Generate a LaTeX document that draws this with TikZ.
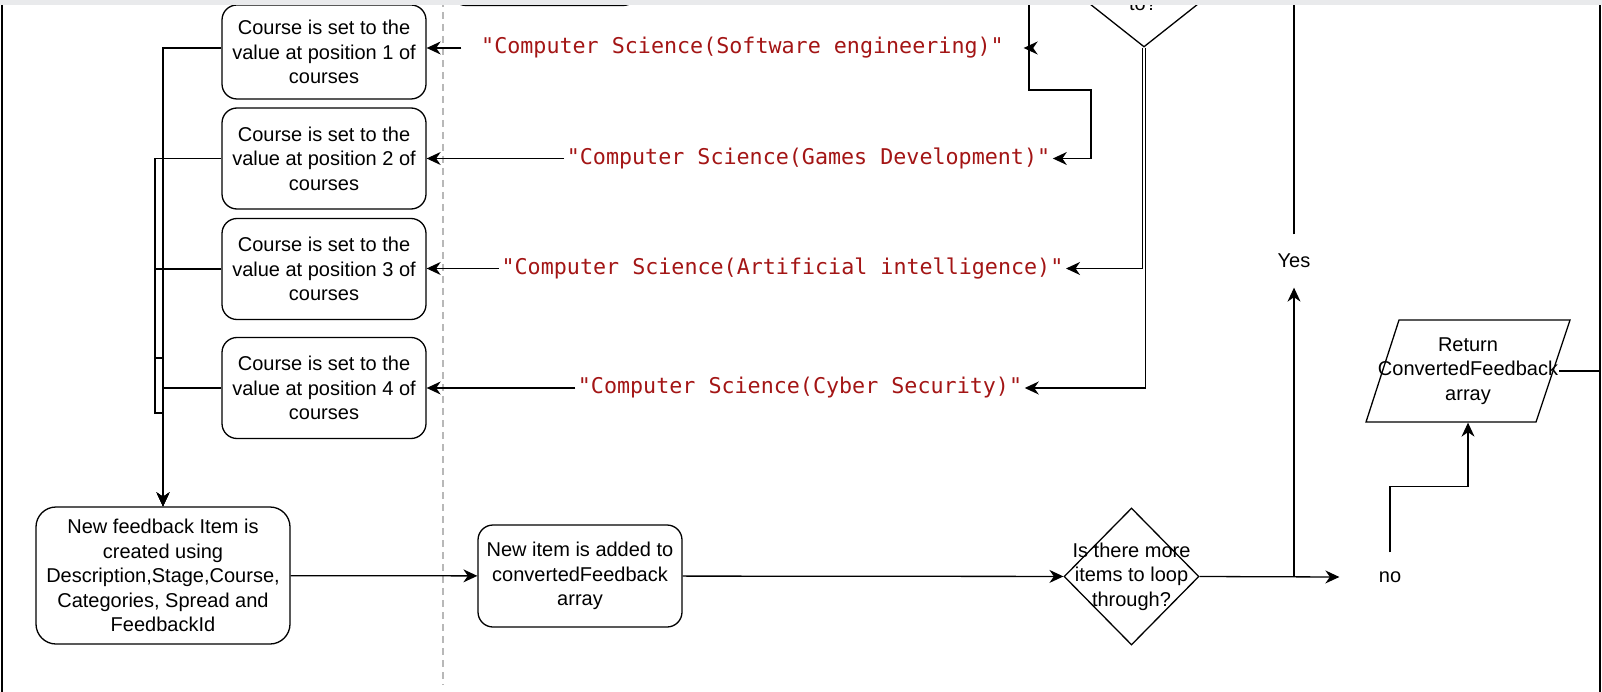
\documentclass[tikz,border=0pt]{standalone}
\usepackage{fontspec}
\setmainfont{Liberation Sans}
\newfontfamily\codefont{DejaVu Sans Mono}
\usetikzlibrary{arrows.meta,shapes.geometric}
\definecolor{strred}{HTML}{A31515}
\definecolor{guide}{HTML}{B8B8B8}
\definecolor{topbar}{HTML}{E9EAEC}

\begin{document}
\begin{tikzpicture}[x=1pt,y=-1pt,line width=1.3pt,
  font=\fontsize{20}{24.5}\selectfont,
  >={Stealth[length=14pt,width=13pt,inset=4.5pt]},
  proc/.style={draw, rounded corners=15pt, minimum width=204pt, minimum height=101pt, align=center, inner sep=0pt},
  strlit/.style={text=strred, font=\codefont\fontsize{21.7}{24}\selectfont, inner xsep=2pt, inner ysep=0pt},
  lbl/.style={align=center, inner sep=0pt},
  decision/.style={diamond, draw, inner sep=0pt}]
\useasboundingbox (0,0) rectangle (1602,692);
\begin{scope}
\clip (0,0) rectangle (1602,692);

% cut-off shapes at the top
\node[proc, minimum width=187pt, minimum height=101pt] (prev) at (544.5,-45) {};
\node[decision, minimum width=240pt, minimum height=190pt] (cond) at (1144,-48) {};
\node[lbl, anchor=base] (condtxt) at (1143,11) {to?};

\draw[guide, dashed, dash pattern=on 7pt off 5pt, line width=1.5pt] (443,0) -- (443,685);

% course boxes
\node[proc, minimum height=94pt] (set1) at (324,52) {Course is set to the\\value at position 1 of\\courses};
\node[proc] (set2) at (324,158.5) {Course is set to the\\value at position 2 of\\courses};
\node[proc] (set3) at (324,269) {Course is set to the\\value at position 3 of\\courses};
\node[proc] (set4) at (324,388) {Course is set to the\\value at position 4 of\\courses};

% course strings
\node[strlit, minimum width=561pt] (swe) at (742.5,48) {"Computer Science(Software engineering)"};
\node[strlit] (games) at (808.5,158.5) {"Computer Science(Games Development)"};
\node[strlit] (ai) at (782.5,268.5) {"Computer Science(Artificial intelligence)"};
\node[strlit] (cyber) at (800,388) {"Computer Science(Cyber Security)"};

% bottom row
\node[proc, rounded corners=20pt, minimum width=254pt, minimum height=137pt] (newfb) at (163,575.5) {New feedback Item is\\created using\\Description,Stage,Course,\\Categories, Spread and\\FeedbackId};
\node[proc, minimum height=102pt] (additem) at (580,576) {New item is added to\\convertedFeedback\\array};
\node[decision, minimum width=135pt, minimum height=137pt] (loopq) at (1131.5,576.5) {};
\node[lbl] (looptxt) at (loopq) {Is there more\\items to loop\\through?};
\node[lbl, minimum height=52pt] (yeslbl) at (1294,261) {Yes};
\node[lbl, minimum width=100pt, minimum height=48pt] (nolbl) at (1390,577) {no};

% return
\draw (1399,320) -- (1570,320) -- (1536,422) -- (1366,422) -- cycle;
\node[lbl, minimum height=102pt] (ret) at (1468,371) {Return\\ConvertedFeedback\\array};

\coordinate (fromtop) at (1029,0);
\coordinate (backtop) at (1294,0);
\coordinate (fromright) at (1600,371);

% strings into course boxes
\draw[->] (swe.west) -- (set1.east |- swe.west);
\draw[->] (games.west) -- (set2.east |- games.west);
\draw[->] (ai.west) -- (set3.east |- ai.west);
\draw[->] (cyber.west) -- (set4.east |- cyber.west);

\draw[->] (fromtop) |- (swe.east);
\draw[->] (fromtop) |- (1091,90) |- (games.east);
\draw[->] ([xshift=-1.5pt]cond.south) |- (ai.east);
\draw[->] ([xshift=1.5pt]cond.south) |- (cyber.east);

% course boxes into new item
\draw[->] (set1.west |- swe.west) -| (newfb.north);
\draw[->] (set2.west) -- (155,158.5) -- (155,413) -- (163,413) -- (newfb.north);
\draw[->] (set3.west) -- (155,269) -- (155,358) -- (163,358) -- (newfb.north);
\draw[->] (set4.west) -| (newfb.north);

\draw[->] (newfb) -- (additem);
\draw[->] (additem) -- (loopq);
\draw[->] (loopq.east) -- (nolbl.west);
\draw[->] (loopq.east -| yeslbl) -- (yeslbl.south);
\draw (yeslbl.north) -- (backtop);
\draw[->] (nolbl.north) -- ++(0,-66) -| (ret.south);
\draw (fromright) -- (ret.east);

% frame
\draw[line width=1.6pt] (2,0) -- (2,692);
\draw[line width=1.6pt] (1600,0) -- (1600,692);
\fill[topbar] (0,0) rectangle (1602,5);
\end{scope}
\end{tikzpicture}
\end{document}
